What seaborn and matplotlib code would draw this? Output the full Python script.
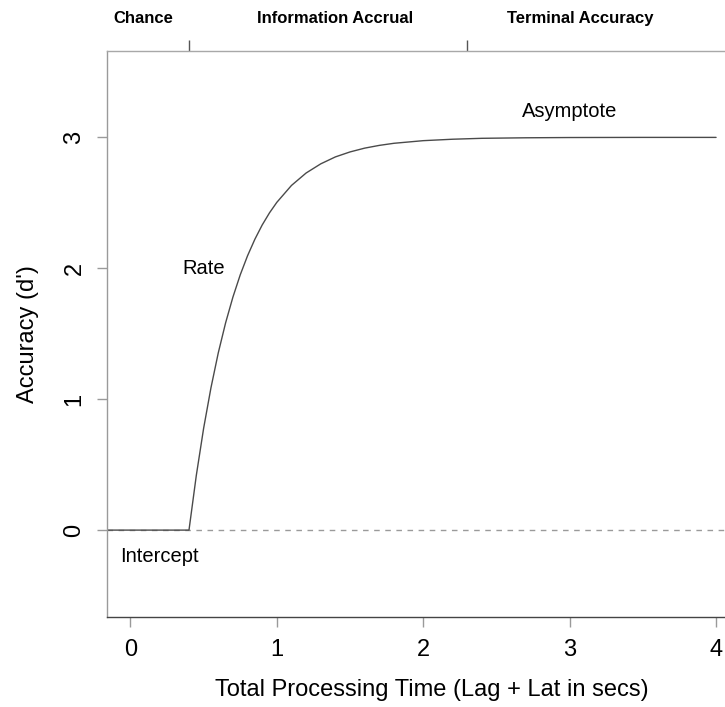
import matplotlib
matplotlib.use("Agg")
import matplotlib.pyplot as plt
import matplotlib.transforms as mtransforms
import pandas as pd
import seaborn as sns

# Speed-accuracy tradeoff curve: accuracy (d') against total processing time
time_s = [-0.2, 0.0, 0.4, 0.45, 0.5, 0.55, 0.6, 0.65, 0.7, 0.75, 0.8, 0.85, 0.9,
          0.95, 1.0, 1.1, 1.2, 1.3, 1.4, 1.5, 1.6, 1.7, 1.8, 2.0, 2.2, 2.4,
          2.7, 3.0, 3.5, 4.0]
accuracy_dprime = [0.0, 0.0, 0.0, 0.418, 0.778, 1.087, 1.354, 1.583, 1.780,
                   1.950, 2.096, 2.222, 2.331, 2.424, 2.504, 2.633, 2.728,
                   2.798, 2.851, 2.889, 2.918, 2.939, 2.955, 2.975, 2.986,
                   2.993, 2.997, 2.999, 3.0, 3.0]

x_ticks = [0, 1, 2, 3, 4]
y_ticks = [0, 1, 2, 3]

# Phase boundaries (top axis) and phase names
phase_bounds = [0.4, 2.3]
phase_names = ["Chance", "Information Accrual", "Terminal Accuracy"]
phase_centers = [0.09, 1.40, 3.07]

# Curve parameter labels
param_names = ["Rate", "Intercept", "Asymptote"]
param_x = [0.5, 0.2, 3.0]
param_y = [2.0, -0.2, 3.2]

sns.set_style("white")
plt.rcParams["font.family"] = ["Liberation Sans", "DejaVu Sans"]
plt.rcParams["text.color"] = "black"
plt.rcParams["axes.labelcolor"] = "black"

df = pd.DataFrame({"time": time_s, "acc": accuracy_dprime})

fig = plt.figure(figsize=(7.25, 7.07), dpi=100)
ax = fig.add_axes([107 / 725, 1 - 616.5 / 707, (739.5 - 107) / 725, (616.5 - 51) / 707])

ax.axhline(0, color="#9a9a9a", lw=1.0, ls=(0, (4, 4)), zorder=1)
sns.lineplot(data=df, x="time", y="acc", ax=ax, color="#4a4a4a", lw=1.0,
             estimator=None, sort=False, zorder=2)

ax.set_xlim(-0.16, 4.16)
ax.set_ylim(-0.66, 3.66)
ax.set_xticks(x_ticks)
ax.set_xticklabels([str(v) for v in x_ticks])
ax.set_yticks(y_ticks)
ax.set_yticklabels([str(v) for v in y_ticks], rotation=90, va="center")

ax.tick_params(axis="x", length=7.5, width=1, color="#9a9a9a", pad=8.5,
               labelsize=17, labelcolor="black", bottom=True)
ax.tick_params(axis="y", length=7.5, width=1, color="#9a9a9a", pad=8,
               labelsize=17, labelcolor="black", left=True)

ax.set_xlabel("Total Processing Time (Lag + Lat in secs)", fontsize=17)
ax.set_ylabel("Accuracy (d')", fontsize=17)
ax.xaxis.set_label_coords(0.514, -0.111)
ax.yaxis.set_label_coords(-0.108, 0.5)

for side in ax.spines.values():
    side.set_linewidth(1.0)
ax.spines["left"].set_color("#9a9a9a")
ax.spines["top"].set_color("#a8a8a8")
ax.spines["bottom"].set_color("#444444")
ax.spines["right"].set_color("#9a9a9a")

# Top axis: phase boundaries
top = ax.secondary_xaxis("top")
top.set_xticks(phase_bounds)
top.set_xticklabels(["", ""])
top.tick_params(axis="x", length=8, width=1, color="#555555")
top.spines["top"].set_visible(False)

blend = mtransforms.blended_transform_factory(ax.transData, ax.transAxes)
for name, xc in zip(phase_names, phase_centers):
    ax.text(xc, 1.0566, name, transform=blend, ha="center", va="center",
            fontsize=12, fontweight="bold", color="black", clip_on=False)

for name, xp, yp in zip(param_names, param_x, param_y):
    ax.text(xp, yp, name, ha="center", va="center", fontsize=14.5,
            color="black")

fig.savefig("out.png", dpi=100)
